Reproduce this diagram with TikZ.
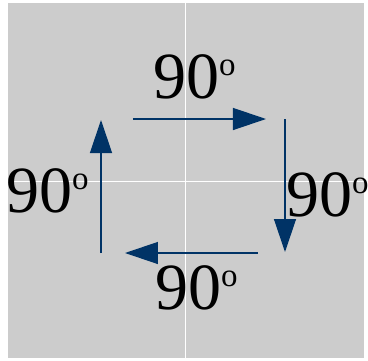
\documentclass[tikz,border=0pt]{standalone}
\usepackage{fontspec}
\setmainfont{Liberation Serif}
\usetikzlibrary{arrows.meta}
\definecolor{panelgray}{RGB}{204,204,204}
\definecolor{turnblue}{RGB}{0,51,102}
\newcommand{\dego}{\raisebox{23pt}{\fontsize{33}{33}\selectfont o}}

\begin{document}
\begin{tikzpicture}[x=1pt,y=-1pt,
  turn/.style={-{Triangle[length=33pt,width=22pt]},draw=turnblue,line width=1.3pt},
  angle/.style={inner sep=0pt,anchor=base west,font=\fontsize{66}{66}\selectfont},
  grid/.style={draw=white,line width=1pt}
]
\useasboundingbox (0,0) rectangle (368,360);
\fill[panelgray] (8,3) rectangle (364,358);
\draw[grid] (186,3) -- (186,358);
\draw[grid] (8,181) -- (364,181);
\coordinate (ts) at (133,119);
\coordinate (te) at (266,119);
\coordinate (rs) at (285,119);
\coordinate (re) at (285,252);
\coordinate (bs) at (258,253);
\coordinate (be) at (125,253);
\coordinate (ls) at (101,253);
\coordinate (le) at (101,120);
\node[angle] (top) at (153,98) {90\dego};
\node[angle] (right) at (286,216) {90\dego};
\node[angle] (bottom) at (155,309) {90\dego};
\node[angle] (left) at (6,212) {90\dego};
\draw[turn] (ts) -- (te);
\draw[turn] (rs) -- (re);
\draw[turn] (bs) -- (be);
\draw[turn] (ls) -- (le);
\end{tikzpicture}
\end{document}
